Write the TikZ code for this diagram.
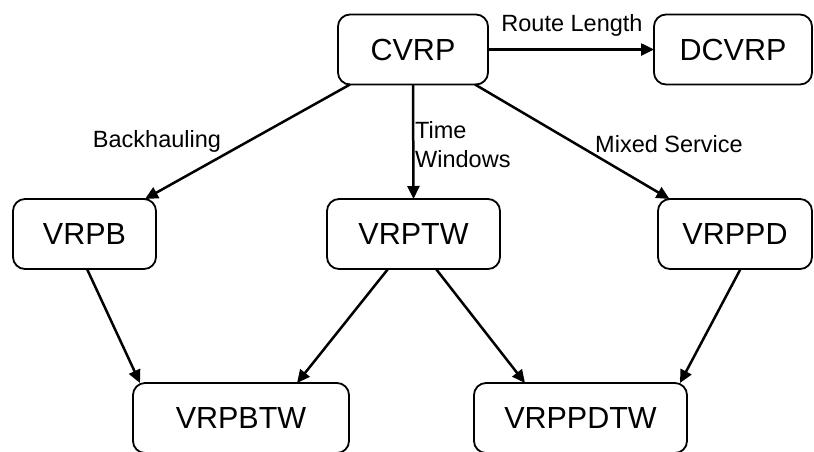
\documentclass[tikz,border=0pt]{standalone}
\usepackage{fontspec}
\setmainfont{Liberation Sans}
\usetikzlibrary{arrows.meta,calc}
\tikzset{
  box/.style={draw=black, line width=1.8pt, rounded corners=12pt, outer sep=0pt, inner sep=0pt,
    minimum height=70pt, font=\fontsize{30.5}{35}\selectfont},
  conn/.style={line width=2.5pt, -{Triangle[length=13pt,width=12pt]}},
  lbl/.style={inner sep=0pt, font=\fontsize{23.5}{29}\selectfont},
}
\begin{document}
\begin{tikzpicture}[x=1pt,y=-1pt]
\useasboundingbox (0,0) rectangle (814,451);
\node[box, minimum width=150pt] (cvrp) at (413,49.5) {CVRP};
\node[box, minimum width=158pt] (dcvrp) at (733,49.5) {DCVRP};
\node[box, minimum width=143pt] (vrpb) at (84.5,234) {VRPB};
\node[box, minimum width=173pt] (vrptw) at (413.5,234) {VRPTW};
\node[box, minimum width=154pt] (vrppd) at (735,234) {VRPPD};
\node[box, minimum width=216pt] (vrpbtw) at (241,418) {VRPBTW};
\node[box, minimum width=213pt] (vrppdtw) at (580.5,418) {VRPPDTW};

\draw[conn] (cvrp.east) -- (dcvrp.west);
\draw[conn] ($(cvrp.south)+(-63,0)$) -- ($(vrpb.north)+(60.5,0)$);
\draw[conn] (cvrp.south) -- (vrptw.north);
\draw[conn] ($(cvrp.south)+(62,0)$) -- ($(vrppd.north)+(-65.5,0)$);
\draw[conn] ($(vrpb.south)+(2.5,0)$) -- ($(vrpbtw.north)+(-101,0)$);
\draw[conn] ($(vrptw.south)+(-25.5,0)$) -- ($(vrpbtw.north)+(56,0)$);
\draw[conn] ($(vrptw.south)+(22.5,0)$) -- ($(vrppdtw.north)+(-55.5,0)$);
\draw[conn] ($(vrppd.south)+(5.5,0)$) -- ($(vrppdtw.north)+(99.5,0)$);

\node[lbl] (lroute) at (572,25) {Route Length};
\node[lbl] (lback) at (157,141) {Backhauling};
\node[lbl, align=left, anchor=west] (ltime) at (415,145) {Time\\Windows};
\node[lbl] (lmixed) at (669,144) {Mixed Service};
\end{tikzpicture}
\end{document}
